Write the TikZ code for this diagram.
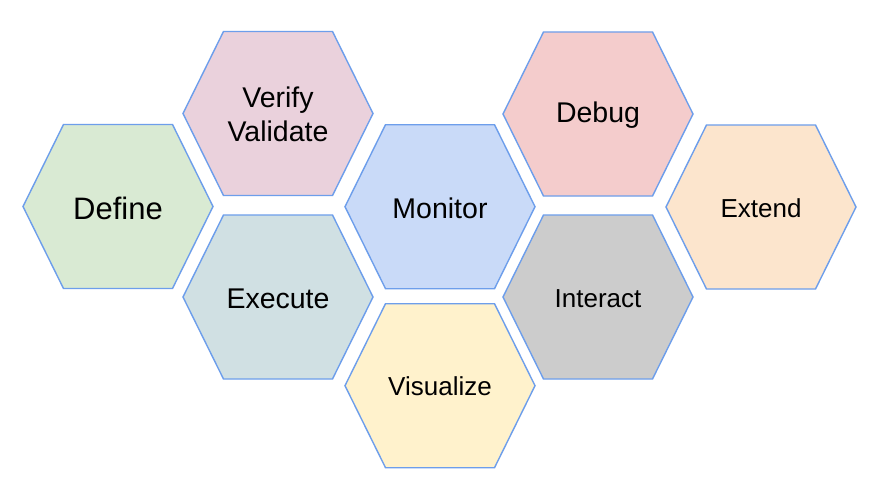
\documentclass[tikz,border=0pt]{standalone}
\usepackage{fontspec}
\setmainfont{Liberation Sans}
\definecolor{edge}{HTML}{6D9EEB}
\definecolor{cDefine}{HTML}{D9EAD3}
\definecolor{cVerify}{HTML}{EAD1DC}
\definecolor{cExecute}{HTML}{D0E0E3}
\definecolor{cMonitor}{HTML}{C9DAF8}
\definecolor{cVisual}{HTML}{FFF2CC}
\definecolor{cDebug}{HTML}{F4CCCC}
\definecolor{cInteract}{HTML}{CCCCCC}
\definecolor{cExtend}{HTML}{FCE5CD}
\newcommand\myhex[4]{%
  \draw[hexline,fill=#4] ({#2-95},{#3}) -- ({#2-54.5},{#3-82}) -- ({#2+54.5},{#3-82})
    -- ({#2+95},{#3}) -- ({#2+54.5},{#3+82}) -- ({#2-54.5},{#3+82}) -- cycle;
  \coordinate (#1) at (#2,#3);}
\tikzset{
  hexline/.style={draw=edge,line width=1.4pt,line join=miter},
  big/.style={font=\fontsize{31}{36}\selectfont},
  mid/.style={font=\fontsize{28.5}{34.3}\selectfont,align=center},
  small/.style={font=\fontsize{26}{31}\selectfont},
}
\begin{document}
\begin{tikzpicture}[x=1pt,y=-1pt]
\useasboundingbox (0,0) rectangle (872,495);
\fill[white] (0,0) rectangle (872,495);
\myhex{hDefine}{118}{206.5}{cDefine}
\myhex{hVerify}{278}{113.5}{cVerify}
\myhex{hExecute}{278}{297}{cExecute}
\myhex{hMonitor}{440}{206.7}{cMonitor}
\myhex{hVisual}{440}{385.7}{cVisual}
\myhex{hDebug}{598}{114}{cDebug}
\myhex{hInteract}{598}{297}{cInteract}
\myhex{hExtend}{761}{207}{cExtend}
\node[big] (tDefine) at (118,208) {Define};
\node[mid] (tVerify) at (278,114) {Verify\\Validate};
\node[mid] (tExecute) at (278,299) {Execute};
\node[mid] (tMonitor) at (440,208) {Monitor};
\node[small] (tVisual) at (440,386) {Visualize};
\node[mid] (tDebug) at (598,115) {Debug};
\node[small] (tInteract) at (598,299) {Interact};
\node[small] (tExtend) at (761,208) {Extend};
\end{tikzpicture}
\end{document}
